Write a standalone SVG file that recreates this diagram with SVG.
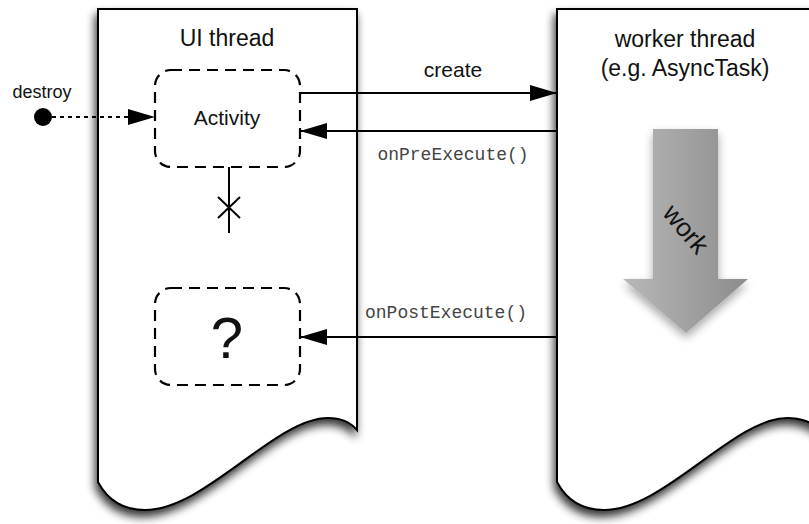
<svg xmlns="http://www.w3.org/2000/svg" width="809" height="524" viewBox="0 0 809 524">
<defs>
  <filter id="shadow" x="-20%" y="-20%" width="140%" height="140%">
    <feGaussianBlur in="SourceAlpha" stdDeviation="5"/>
    <feOffset dx="-2" dy="6" result="b"/>
    <feComponentTransfer><feFuncA type="linear" slope="0.8"/></feComponentTransfer>
    <feMerge><feMergeNode/><feMergeNode in="SourceGraphic"/></feMerge>
  </filter>
  <filter id="ashadow" x="-30%" y="-20%" width="160%" height="140%">
    <feGaussianBlur in="SourceAlpha" stdDeviation="5"/>
    <feOffset dx="0" dy="5"/>
    <feComponentTransfer><feFuncA type="linear" slope="0.35"/></feComponentTransfer>
    <feMerge><feMergeNode/><feMergeNode in="SourceGraphic"/></feMerge>
  </filter>
  <linearGradient id="grey" x1="0" y1="0" x2="1" y2="0">
    <stop offset="0" stop-color="#b8b8b8"/>
    <stop offset="1" stop-color="#8c8c8c"/>
  </linearGradient>
  <marker id="ah" markerWidth="27" markerHeight="16" refX="27" refY="8" orient="auto" markerUnits="userSpaceOnUse">
    <path d="M0,0 L27,8 L0,16 Z" fill="#000"/>
  </marker>
  <style>
    .panel{fill:#fff;stroke:#000;stroke-width:2}
    .sans{font-family:"Liberation Sans",Arial,Helvetica,sans-serif;fill:#111}
    .mono{font-family:"Liberation Mono","Courier New",monospace;font-size:18px;fill:#444}
    .dbox{fill:none;stroke:#000;stroke-width:2.2;stroke-dasharray:11 7}
    .conn{fill:none;stroke:#000;stroke-width:2}
  </style>
</defs>
<rect width="809" height="524" fill="#fff"/>

<g id="ui-thread">
  <path class="panel" filter="url(#shadow)" d="M98,9 H357 V430 C350,422 342,418 328,418 C275,418 205,510 145,510 C120,510 106,497 98,482 Z"/>
  <text class="sans" x="227" y="46" font-size="23" text-anchor="middle">UI thread</text>
</g>

<g id="worker-thread">
  <path class="panel" filter="url(#shadow)" d="M557,9 H820 V430 C812,422 801,418 787,418 C734,418 664,510 604,510 C579,510 565,497 557,482 Z"/>
  <text class="sans" x="685" y="47" font-size="23" text-anchor="middle">worker thread</text>
  <text class="sans" x="685" y="76" font-size="23" text-anchor="middle">(e.g. AsyncTask)</text>
</g>

<g id="work">
  <path filter="url(#ashadow)" fill="url(#grey)" d="M653,129 H718 V279 H748 L686,333 L623,279 H653 Z"/>
  <text class="sans" x="686" y="238" font-size="26" text-anchor="middle" transform="rotate(50 686 229)">work</text>
</g>

<g id="activity">
  <rect class="dbox" x="155" y="70" width="145" height="97" rx="16"/>
  <text class="sans" x="227" y="125" font-size="21" text-anchor="middle">Activity</text>
</g>

<g id="unknown">
  <rect class="dbox" x="155" y="288" width="145" height="97" rx="16"/>
  <text class="sans" x="227" y="358" font-size="58" text-anchor="middle">?</text>
</g>

<g id="destroy">
  <circle cx="43" cy="117" r="9" fill="#000"/>
  <text class="sans" x="42" y="98" font-size="18" text-anchor="middle">destroy</text>
</g>

<g id="connectors">
  <line class="conn" x1="52" y1="117" x2="155" y2="117" stroke-dasharray="4 4" marker-end="url(#ah)"/>
  <line class="conn" x1="300" y1="93" x2="557" y2="93" marker-end="url(#ah)"/>
  <text class="sans" x="453" y="77" font-size="21" text-anchor="middle">create</text>
  <line class="conn" x1="557" y1="131" x2="300" y2="131" marker-end="url(#ah)"/>
  <text class="mono" x="453" y="160" text-anchor="middle">onPreExecute()</text>
  <line class="conn" x1="557" y1="337" x2="300" y2="337" marker-end="url(#ah)"/>
  <text class="mono" x="446" y="318" text-anchor="middle">onPostExecute()</text>
  <line class="conn" x1="229" y1="167" x2="229" y2="233"/>
  <path class="conn" d="M218,197 L240,218 M240,197 L218,218"/>
</g>
</svg>
